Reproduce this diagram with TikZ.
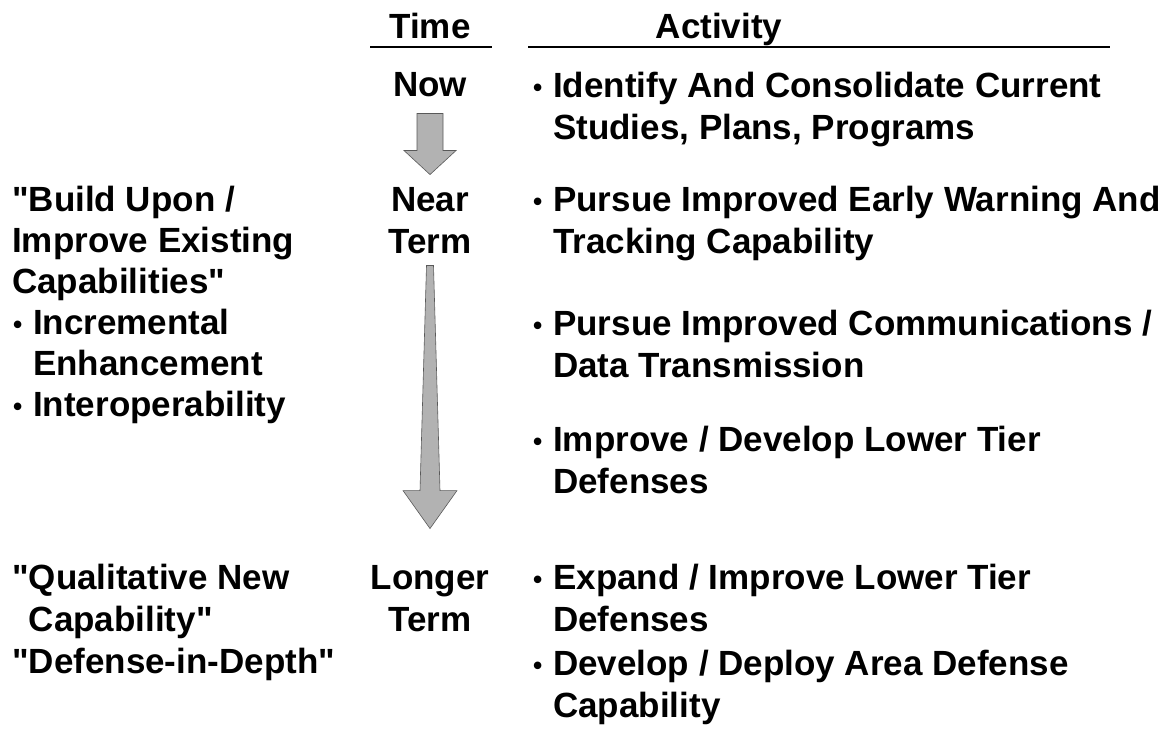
\documentclass[tikz,border=0pt]{standalone}
\usepackage{fontspec}
\setmainfont{Liberation Sans}[Ligatures=TeXOff]
\usetikzlibrary{calc}
\tikzset{
  txt/.style={font=\fontsize{35}{42}\selectfont\bfseries, inner sep=0pt, align=left, anchor=base west},
  mid/.style={font=\fontsize{35}{42}\selectfont\bfseries, inner sep=0pt, align=center, anchor=base},
  rule/.style={line width=2.5pt},
  bigarrow/.style={fill=gray!60, draw=black!65, line width=0.6pt}
}
\newcommand{\bul}{\makebox[21pt][l]{\hspace{1pt}\raisebox{0.5pt}{\scalebox{0.75}{\textbullet}}}}
\newcommand{\ind}{\hspace{21pt}}
\begin{document}
\begin{tikzpicture}[x=1pt,y=-1pt]
\useasboundingbox (0,0) rectangle (1172,729);
% headings
\node[mid] (time) at (430,38) {Time};
\node[mid] (act) at (719,38) {Activity};
\draw[rule] (370,47) -- (492,47);
\draw[rule] (528,47) -- (1110,47);
% time column (base = last line)
\node[mid] (now) at (430,96) {Now};
\node[mid] (near) at (430,253) {Near\\Term};
\node[mid] (longer) at (430,631) {Longer\\Term};
% arrows
\path[bigarrow] ($(now.south)+(-13,17)$) -- ++(26,0) -- ++(0,37) -- ++(13,0)
  -- ($(now.south)+(0,78)$) -- ++(-26,-24) -- ++(13,0) -- cycle;
\path[bigarrow] ($(near.south)+(-3.5,12)$) -- ++(7,0) -- ++(6.5,225) -- ++(17,0)
  -- ($(near.south)+(0,275)$) -- ++(-27,-38) -- ++(17,0) -- cycle;
% left column
\node[txt, font=\fontsize{35}{41}\selectfont\bfseries] (build) at (12,416)
  {"Build Upon /\\Improve Existing\\Capabilities"\\
  \bul Incremental\\\ind Enhancement\\\bul Interoperability};
\node[txt] (quali) at (12,631) {"Qualitative New\\\hphantom{"}Capability"};
\node[txt] (depth) at (12,673) {"Defense-in-Depth"};
% activities
\node[txt] (a1) at (532,139) {\bul Identify And Consolidate Current\\\ind Studies, Plans, Programs};
\node[txt] (a2) at (532,253) {\bul Pursue Improved Early Warning And\\\ind Tracking Capability};
\node[txt] (a3) at (532,377) {\bul Pursue Improved Communications /\\\ind Data Transmission};
\node[txt] (a4) at (532,493) {\bul Improve / Develop Lower Tier\\\ind Defenses};
\node[txt] (a5) at (532,631) {\bul Expand / Improve Lower Tier\\\ind Defenses};
\node[txt] (a6) at (532,717) {\bul Develop / Deploy Area Defense\\\ind Capability};
\end{tikzpicture}
\end{document}
